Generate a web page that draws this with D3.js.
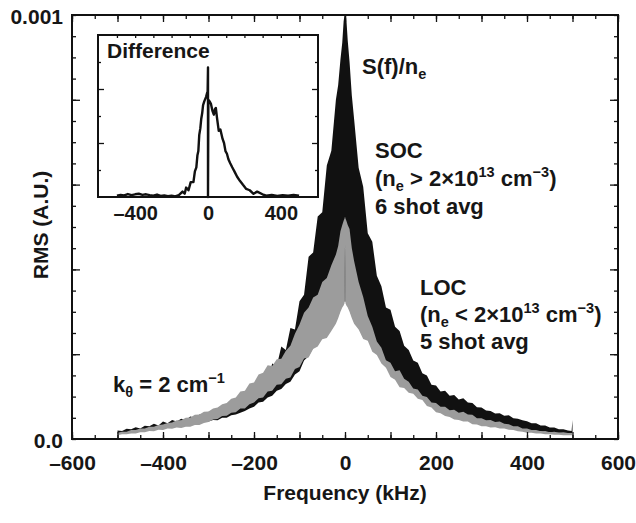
<!DOCTYPE html>
<html><head><meta charset="utf-8">
<script src="https://cdn.jsdelivr.net/npm/d3@7"></script>
<style>
body{margin:0;background:#fff;}
text{font-family:"Liberation Sans",Arial,Helvetica,sans-serif;font-weight:bold;fill:#161616;}
</style></head><body>
<svg id="c" width="636" height="523"></svg>
<script>
// ---- data (RMS in units of 1e-4) ----
const freq = [-500,-490,-480,-470,-460,-450,-440,-430,-420,-410,-400,-390,-380,-370,-360,-350,-340,-330,-320,-310,-300,-290,-280,-270,-260,-250,-240,-230,-220,-210,-200,-190,-180,-170,-160,-150,-140,-130,-120,-110,-100,-90,-80,-70,-60,-50,-40,-30,-20,
 -15,-10,-6,-3,-1,0,1,3,6,10,15,
 20,30,40,50,60,70,80,90,100,110,120,130,140,150,160,170,180,190,200,210,220,230,240,250,260,270,280,290,300,310,320,330,340,350,360,370,380,390,400,410,420,430,440,450,460,470,480,490,498,500];

const socUpper = [0.20,0.19,0.24,0.23,0.28,0.25,0.31,0.30,0.36,0.32,0.41,0.37,0.45,0.41,0.48,0.44,0.53,0.50,0.58,0.54,0.64,0.59,0.71,0.66,0.80,0.74,0.88,0.83,0.98,0.95,1.16,1.13,1.44,1.38,1.78,1.72,2.18,2.10,2.62,2.58,3.25,3.40,4.30,4.40,5.25,5.35,6.45,6.80,8.00,
 8.35,8.95,9.35,9.85,10,10,10,9.9,9.4,8.9,8.1,
 7.55,6.40,5.95,4.85,4.65,3.85,3.60,3.10,3.05,2.65,2.55,2.20,2.10,1.85,1.80,1.55,1.50,1.28,1.26,1.12,1.14,1.02,1.04,0.93,0.96,0.86,0.85,0.75,0.74,0.67,0.66,0.60,0.61,0.55,0.56,0.49,0.48,0.44,0.42,0.37,0.37,0.32,0.32,0.27,0.27,0.23,0.23,0.20,0.19,0.45];

const socLower = [0.12,0.14,0.14,0.16,0.16,0.19,0.19,0.22,0.21,0.25,0.24,0.28,0.27,0.30,0.29,0.32,0.32,0.36,0.36,0.40,0.41,0.45,0.44,0.50,0.50,0.56,0.58,0.62,0.66,0.72,0.76,0.86,0.88,0.98,1.02,1.14,1.18,1.30,1.35,1.52,1.60,1.85,1.95,2.15,2.25,2.40,2.50,2.60,2.78,
 2.9,3.05,3.15,3.2,3.25,4.6,3.25,3.2,3.15,3.05,2.9,
 2.77,2.63,2.41,2.37,2.11,2.03,1.83,1.73,1.51,1.45,1.27,1.25,1.14,1.12,1.00,0.97,0.83,0.79,0.68,0.66,0.59,0.57,0.51,0.50,0.46,0.46,0.40,0.39,0.35,0.35,0.32,0.33,0.30,0.30,0.27,0.26,0.23,0.22,0.20,0.20,0.18,0.18,0.16,0.16,0.15,0.15,0.14,0.14,0.14,0.14];

const locUpper = [0.15,0.17,0.17,0.21,0.21,0.25,0.25,0.29,0.29,0.33,0.34,0.38,0.39,0.44,0.44,0.50,0.51,0.57,0.58,0.64,0.65,0.72,0.74,0.82,0.85,0.95,0.98,1.12,1.14,1.31,1.33,1.52,1.56,1.74,1.72,1.88,1.89,2.08,2.20,2.48,2.70,2.98,3.10,3.34,3.40,3.70,3.80,4.10,4.35,
 4.55,4.9,5.05,5.15,5.2,5.25,5.2,5.15,5.05,4.95,4.5,
 4.20,3.70,3.35,2.90,2.65,2.30,2.15,1.86,1.80,1.60,1.62,1.42,1.35,1.19,1.17,1.02,0.99,0.86,0.85,0.76,0.76,0.68,0.69,0.62,0.64,0.58,0.57,0.49,0.49,0.44,0.45,0.40,0.41,0.36,0.35,0.30,0.30,0.25,0.25,0.21,0.21,0.18,0.19,0.16,0.17,0.15,0.16,0.14,0.14,0.14];

const locLower = [0.09,0.11,0.11,0.13,0.13,0.16,0.16,0.19,0.18,0.22,0.21,0.25,0.24,0.27,0.26,0.29,0.29,0.33,0.33,0.38,0.40,0.46,0.47,0.54,0.55,0.62,0.63,0.72,0.72,0.82,0.86,0.96,0.98,1.12,1.14,1.28,1.29,1.42,1.45,1.65,1.70,1.90,1.92,2.12,2.18,2.35,2.38,2.55,2.72,
 2.85,3.0,3.1,3.15,3.2,4.6,3.2,3.15,3.1,3.0,2.85,
 2.72,2.58,2.36,2.32,2.06,1.98,1.78,1.68,1.46,1.40,1.22,1.20,1.09,1.07,0.95,0.92,0.78,0.74,0.63,0.61,0.54,0.52,0.46,0.45,0.41,0.41,0.35,0.34,0.30,0.30,0.27,0.28,0.25,0.25,0.22,0.21,0.18,0.17,0.15,0.15,0.13,0.13,0.11,0.11,0.10,0.10,0.09,0.09,0.09,0.09];

const diffFreq = [-500,-480,-460,-440,-420,-400,-380,-360,-340,-320,-300,-280,-260,-240,-220,-200,-180,-160,-140,-128,-120,-107,-95,-80,-72,-64,-58,-53,-48,-42,-37,-32,-27,-20,-11,-5,-2,0,0,2,8,16,24,32,38,43,50,59,68,80,88,96,104,112,122,133,145,160,175,192,210,229,250,270,299,320,350,380,410,440,470,500];
const diffValue = [0.05,0.08,0.06,0.11,0.07,0.10,0.12,0.08,0.10,0.07,0.05,0.09,0.04,0.06,0.03,0.05,0.02,0.07,0.20,0.12,0.35,0.25,0.55,0.55,0.95,1.10,1.55,1.70,2.30,2.55,2.90,3.10,3.40,3.55,3.70,3.85,3.90,4.80,0,3.60,3.55,3.45,3.20,3.05,3.25,3.30,2.90,2.45,2.50,2.15,2.00,1.70,1.60,1.40,1.25,1.10,0.95,0.75,0.60,0.45,0.30,0.25,0.12,0.20,0.10,0.05,0.08,0.04,0.07,0.05,0.08,0.05];

const xTickValues = [-600,-400,-200,0,200,400,600];
const yTickValues = [0,10];
const yTickLabels = ["0.0","0.001"];
const insetTickValues = [-400,0,400];

// ---- layout ----
const svg = d3.select("#c");
const L=72,T=15,R=618,B=439;
const x = d3.scaleLinear().domain([-600,600]).range([L,R]);
const y = d3.scaleLinear().domain([0,10]).range([B,T]);

svg.append("defs").append("clipPath").attr("id","pc")
  .append("rect").attr("x",L).attr("y",T).attr("width",R-L).attr("height",B-T);

const rows = freq.map((f,i)=>({f, su:socUpper[i], sl:socLower[i], lu:locUpper[i], ll:locLower[i]}));
const g = svg.append("g").attr("clip-path","url(#pc)");
g.append("path").datum(rows).attr("fill","#111")
  .attr("d", d3.area().x(d=>x(d.f)).y0(d=>y(d.sl)).y1(d=>y(d.su)));
g.append("path").datum(rows).attr("fill","#9c9c9c")
  .attr("d", d3.area().x(d=>x(d.f)).y0(d=>y(d.ll)).y1(d=>y(d.lu)));

// ---- axes ----
const d50 = d3.range(-600,601,50), d100 = d3.range(-600,601,100);
function tickStyle(sel){ sel.select(".domain").remove(); sel.selectAll("line").attr("stroke","#111").attr("stroke-width",1.3); }
svg.append("g").attr("transform",`translate(0,${B})`).call(d3.axisBottom(x).tickValues(d50).tickSize(-4).tickFormat("")).call(tickStyle);
svg.append("g").attr("transform",`translate(0,${B})`).call(d3.axisBottom(x).tickValues(d100).tickSize(-7).tickFormat("")).call(tickStyle);
svg.append("g").attr("transform",`translate(0,${T})`).call(d3.axisTop(x).tickValues(d50).tickSize(-4).tickFormat("")).call(tickStyle);
svg.append("g").attr("transform",`translate(0,${T})`).call(d3.axisTop(x).tickValues(d100).tickSize(-7).tickFormat("")).call(tickStyle);
const xl = svg.append("g").attr("transform",`translate(0,${B})`)
  .call(d3.axisBottom(x).tickValues(xTickValues).tickSize(0).tickPadding(16).tickFormat(d=>d<0?"\u2013"+Math.abs(d):String(d)));
xl.select(".domain").remove();
xl.selectAll("text").attr("font-size",21).style("font-family",'"Liberation Sans",Arial,sans-serif').attr("fill","#161616");

const yMinor = d3.range(0,10.01,0.5), yMajor = [2,4,6,8];
svg.append("g").attr("transform",`translate(${L},0)`).call(d3.axisLeft(y).tickValues(yMinor).tickSize(-4).tickFormat("")).call(tickStyle);
svg.append("g").attr("transform",`translate(${L},0)`).call(d3.axisLeft(y).tickValues(yMajor).tickSize(-8).tickFormat("")).call(tickStyle);
svg.append("g").attr("transform",`translate(${R},0)`).call(d3.axisRight(y).tickValues(yMinor).tickSize(-4).tickFormat("")).call(tickStyle);
svg.append("g").attr("transform",`translate(${R},0)`).call(d3.axisRight(y).tickValues(yMajor).tickSize(-8).tickFormat("")).call(tickStyle);
const yl = svg.append("g").attr("transform",`translate(${L},0)`)
  .call(d3.axisLeft(y).tickValues(yTickValues).tickSize(0).tickPadding(9).tickFormat((d,i)=>yTickLabels[i]));
yl.select(".domain").remove();
yl.selectAll("text").attr("font-size",21).style("font-family",'"Liberation Sans",Arial,sans-serif').attr("fill","#161616").attr("dy","0.4em");

svg.append("rect").attr("x",L).attr("y",T).attr("width",R-L).attr("height",B-T)
  .attr("fill","none").attr("stroke","#111").attr("stroke-width",2);

// titles
svg.append("text").attr("x",345).attr("y",500).attr("text-anchor","middle").attr("font-size",21).text("Frequency (kHz)");
svg.append("text").attr("transform","translate(48,225) rotate(-90)").attr("text-anchor","middle").attr("font-size",21).text("RMS (A.U.)");

// annotations
function rich(x0,y0,parts,fs){
  const t = svg.append("text").attr("x",x0).attr("y",y0).attr("font-size",fs);
  let cur=0;
  parts.forEach(p=>{
    const s = t.append("tspan").text(p[0]);
    let want = p[1]==="sub"?5:(p[1]==="sup"?-9:0);
    s.attr("dy",want-cur); cur=want;
    if(p[1]) s.attr("font-size",fs*0.66);
  });
  return t;
}
const fs=22;
rich(362,74,[["S(f)/n"],["e","sub"]],fs);
rich(375,158,[["SOC"]],fs);
rich(375,186,[["(n"],["e","sub"],[" > 2\u00D710"],["13","sup"],[" cm"],["\u22123","sup"],[")"]],fs);
rich(375,214,[["6 shot avg"]],fs);
rich(420,295,[["LOC"]],fs);
rich(420,322,[["(n"],["e","sub"],[" < 2\u00D710"],["13","sup"],[" cm"],["\u22123","sup"],[")"]],fs);
rich(420,349,[["5 shot avg"]],fs);
rich(113,392,[["k"],["\u03B8","sub"],[" = 2 cm"],["\u22121","sup"]],fs);

// ---- inset ----
const IL=98,IT=35,IR=318,IB=197;
const xi = d3.scaleLinear().domain([-604,604]).range([IL,IR]);
const yi = d3.scaleLinear().domain([0,6]).range([IB,IT]);
const ins = svg.append("g");
ins.append("rect").attr("x",IL).attr("y",IT).attr("width",IR-IL).attr("height",IB-IT).attr("fill","#fff");
const drows = diffFreq.map((f,i)=>({f,v:diffValue[i]}));
ins.append("path").datum(drows).attr("fill","none").attr("stroke","#111").attr("stroke-width",2.4).attr("stroke-linejoin","round")
  .attr("d", d3.line().x(d=>xi(d.f)).y(d=>yi(d.v)));
ins.append("g").attr("transform",`translate(${IL},0)`).call(d3.axisLeft(yi).tickValues([1,3,5]).tickSize(-3).tickFormat("")).call(tickStyle);
ins.append("g").attr("transform",`translate(${IL},0)`).call(d3.axisLeft(yi).tickValues([2,4]).tickSize(-6).tickFormat("")).call(tickStyle);
ins.append("g").attr("transform",`translate(${IR},0)`).call(d3.axisRight(yi).tickValues([1,3,5]).tickSize(-3).tickFormat("")).call(tickStyle);
ins.append("g").attr("transform",`translate(${IR},0)`).call(d3.axisRight(yi).tickValues([2,4]).tickSize(-6).tickFormat("")).call(tickStyle);
ins.append("g").attr("transform",`translate(0,${IT})`).call(d3.axisTop(xi).tickValues(d3.range(-500,501,100)).tickSize(-3).tickFormat("")).call(tickStyle);
const il = ins.append("g").attr("transform",`translate(0,${IB})`)
  .call(d3.axisBottom(xi).tickValues(insetTickValues).tickSize(0).tickPadding(9).tickFormat(d=>d<0?"\u2013"+Math.abs(d):String(d)));
il.select(".domain").remove();
il.selectAll("text").attr("font-size",20).style("font-family",'"Liberation Sans",Arial,sans-serif').attr("fill","#161616");
ins.append("rect").attr("x",IL).attr("y",IT).attr("width",IR-IL).attr("height",IB-IT)
  .attr("fill","none").attr("stroke","#111").attr("stroke-width",2);
ins.append("text").attr("x",107).attr("y",58).attr("font-size",21).text("Difference");
</script></body></html>
